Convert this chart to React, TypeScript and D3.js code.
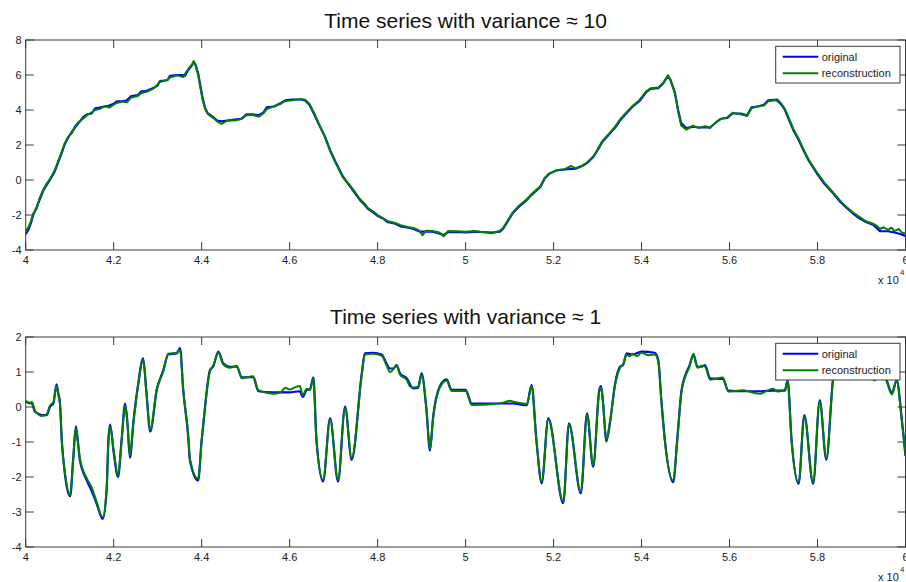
import React from "react";
import * as d3 from "d3";

// ---------- data (x in units of 10^4) ----------
const xTickValues = [4, 4.2, 4.4, 4.6, 4.8, 5, 5.2, 5.4, 5.6, 5.8, 6];
const xTickLabels = ["4", "4.2", "4.4", "4.6", "4.8", "5", "5.2", "5.4", "5.6", "5.8", "6"];
const topYTicks = [-4, -2, 0, 2, 4, 6, 8];
const bottomYTicks = [-4, -3, -2, -1, 0, 1, 2];
const titles = ["Time series with variance \u2248 10", "Time series with variance \u2248 1"];
const seriesNames = ["original", "reconstruction"];

const topOriginal: [number, number][] = [
  [4.000,-3.10],[4.006,-2.85],[4.012,-2.45],[4.017,-2.00],[4.025,-1.55],[4.032,-1.10],[4.040,-0.60],[4.046,-0.35],
  [4.055,0.00],[4.062,0.30],[4.067,0.55],[4.075,1.10],[4.082,1.55],[4.088,2.00],[4.096,2.40],[4.105,2.75],
  [4.112,3.00],[4.120,3.25],[4.131,3.60],[4.140,3.75],[4.150,3.80],[4.158,4.10],[4.170,4.15],[4.180,4.20],
  [4.190,4.25],[4.200,4.35],[4.207,4.50],[4.220,4.50],[4.230,4.55],[4.240,4.80],[4.255,4.85],[4.262,5.05],
  [4.275,5.10],[4.290,5.25],[4.300,5.40],[4.305,5.65],[4.322,5.70],[4.328,5.95],[4.345,6.00],[4.358,6.00],
  [4.362,5.95],[4.370,6.30],[4.378,6.55],[4.382,6.75],[4.386,6.60],[4.392,6.10],[4.397,5.40],[4.402,4.70],
  [4.408,4.10],[4.414,3.80],[4.426,3.60],[4.435,3.40],[4.445,3.35],[4.460,3.40],[4.475,3.45],[4.490,3.50],
  [4.502,3.75],[4.515,3.75],[4.530,3.70],[4.540,3.85],[4.548,4.15],[4.565,4.20],[4.580,4.40],[4.590,4.55],
  [4.605,4.60],[4.625,4.60],[4.635,4.55],[4.645,4.30],[4.655,3.80],[4.665,3.25],[4.680,2.50],[4.692,1.70],
  [4.705,1.00],[4.721,0.20],[4.737,-0.35],[4.750,-0.80],[4.760,-1.15],[4.770,-1.40],[4.778,-1.65],[4.790,-1.85],
  [4.800,-2.05],[4.812,-2.20],[4.822,-2.40],[4.840,-2.50],[4.852,-2.65],[4.870,-2.72],[4.882,-2.80],[4.895,-2.95],
  [4.910,-2.95],[4.925,-2.95],[4.940,-3.05],[4.950,-3.15],[4.960,-2.98],[4.980,-2.97],[5.000,-3.00],[5.020,-2.96],
  [5.040,-2.97],[5.060,-3.00],[5.078,-2.95],[5.085,-2.80],[5.095,-2.40],[5.107,-1.90],[5.120,-1.55],[5.139,-1.15],
  [5.150,-0.85],[5.170,-0.40],[5.180,0.10],[5.190,0.35],[5.207,0.55],[5.225,0.60],[5.250,0.65],[5.265,0.80],
  [5.275,0.95],[5.290,1.30],[5.300,1.70],[5.310,2.15],[5.328,2.65],[5.340,3.00],[5.351,3.40],[5.365,3.80],
  [5.380,4.20],[5.395,4.50],[5.410,5.00],[5.420,5.20],[5.438,5.25],[5.450,5.55],[5.460,5.95],[5.466,5.70],
  [5.476,4.95],[5.483,4.00],[5.490,3.25],[5.502,2.95],[5.516,3.05],[5.530,3.00],[5.555,3.00],[5.570,3.30],
  [5.580,3.50],[5.595,3.55],[5.607,3.80],[5.625,3.80],[5.640,3.70],[5.650,4.15],[5.665,4.20],[5.678,4.30],
  [5.688,4.55],[5.700,4.58],[5.708,4.55],[5.718,4.30],[5.726,4.00],[5.736,3.40],[5.745,2.85],[5.757,2.30],
  [5.767,1.75],[5.780,1.10],[5.798,0.40],[5.815,-0.20],[5.835,-0.75],[5.850,-1.20],[5.866,-1.60],[5.880,-1.90],
  [5.896,-2.20],[5.910,-2.40],[5.926,-2.55],[5.935,-2.75],[5.942,-2.92],[5.960,-2.93],[5.975,-3.00],[5.990,-3.10],
  [6.000,-3.20],
];

const topReconstruction: [number, number][] = [
  [4.000,-2.95],[4.006,-2.70],[4.012,-2.35],[4.017,-1.92],[4.025,-1.62],[4.032,-1.02],[4.040,-0.55],[4.046,-0.28],
  [4.055,0.06],[4.062,0.36],[4.067,0.62],[4.075,1.15],[4.082,1.62],[4.088,2.06],[4.096,2.45],[4.105,2.68],
  [4.112,3.06],[4.120,3.30],[4.131,3.52],[4.140,3.72],[4.150,3.86],[4.158,4.00],[4.170,4.08],[4.180,4.22],
  [4.190,4.14],[4.200,4.30],[4.207,4.40],[4.220,4.48],[4.230,4.44],[4.240,4.72],[4.255,4.80],[4.262,4.96],
  [4.275,5.04],[4.290,5.22],[4.300,5.46],[4.305,5.60],[4.322,5.72],[4.328,5.86],[4.345,5.98],[4.358,5.88],
  [4.362,6.05],[4.370,6.36],[4.378,6.60],[4.382,6.80],[4.386,6.55],[4.392,6.00],[4.397,5.30],[4.402,4.60],
  [4.408,4.04],[4.414,3.78],[4.426,3.55],[4.435,3.35],[4.445,3.20],[4.452,3.30],[4.460,3.42],[4.475,3.40],
  [4.490,3.48],[4.502,3.70],[4.515,3.72],[4.530,3.62],[4.540,3.80],[4.548,4.05],[4.565,4.22],[4.580,4.36],
  [4.590,4.52],[4.605,4.55],[4.625,4.63],[4.635,4.58],[4.645,4.36],[4.655,3.86],[4.665,3.30],[4.680,2.46],
  [4.692,1.66],[4.705,0.95],[4.721,0.15],[4.737,-0.30],[4.750,-0.74],[4.760,-1.10],[4.770,-1.34],[4.778,-1.60],
  [4.790,-1.80],[4.800,-2.00],[4.812,-2.18],[4.822,-2.34],[4.840,-2.46],[4.852,-2.58],[4.870,-2.70],[4.882,-2.74],
  [4.895,-2.90],[4.902,-3.15],[4.910,-2.90],[4.925,-2.92],[4.940,-3.00],[4.950,-3.22],[4.960,-2.92],[4.980,-2.93],
  [5.000,-2.96],[5.020,-2.92],[5.040,-2.98],[5.060,-3.05],[5.078,-2.90],[5.085,-2.75],[5.095,-2.34],[5.107,-1.86],
  [5.120,-1.50],[5.139,-1.10],[5.150,-0.80],[5.170,-0.36],[5.180,0.12],[5.190,0.38],[5.207,0.56],[5.225,0.62],
  [5.240,0.80],[5.250,0.66],[5.265,0.82],[5.275,0.98],[5.290,1.34],[5.300,1.74],[5.310,2.20],[5.328,2.70],
  [5.340,3.05],[5.351,3.46],[5.365,3.84],[5.380,4.24],[5.395,4.56],[5.410,5.05],[5.420,5.24],[5.438,5.28],
  [5.450,5.58],[5.460,5.98],[5.466,5.72],[5.476,4.98],[5.483,3.95],[5.490,3.12],[5.502,2.88],[5.516,3.10],
  [5.530,2.98],[5.545,3.08],[5.555,2.96],[5.570,3.32],[5.580,3.48],[5.595,3.58],[5.607,3.84],[5.625,3.76],
  [5.640,3.66],[5.650,4.10],[5.665,4.22],[5.678,4.26],[5.688,4.50],[5.700,4.56],[5.708,4.62],[5.718,4.36],
  [5.726,4.05],[5.736,3.46],[5.745,2.92],[5.757,2.36],[5.767,1.80],[5.780,1.16],[5.798,0.46],[5.815,-0.14],
  [5.835,-0.70],[5.850,-1.14],[5.866,-1.55],[5.880,-1.84],[5.896,-2.12],[5.910,-2.36],[5.926,-2.50],[5.935,-2.62],
  [5.942,-2.80],[5.950,-2.70],[5.960,-2.85],[5.968,-2.72],[5.975,-2.92],[5.985,-2.80],[5.992,-3.02],[6.000,-3.05],
];

const bottomOriginal: [number, number][] = [
  [4.000,0.15],[4.008,0.12],[4.014,0.10],[4.021,-0.13],[4.030,-0.20],[4.036,-0.23],[4.048,-0.23],[4.055,0.00],
  [4.063,0.10],[4.070,0.65],[4.074,0.40],[4.078,0.10],[4.082,-0.94],[4.089,-1.90],[4.101,-2.55],[4.108,-1.50],
  [4.114,-0.55],[4.118,-0.90],[4.123,-1.50],[4.139,-2.10],[4.150,-2.40],[4.161,-2.75],[4.175,-3.20],[4.184,-2.37],
  [4.188,-0.94],[4.192,-0.50],[4.200,-1.30],[4.210,-2.00],[4.218,-0.94],[4.226,0.10],[4.231,-0.40],[4.237,-1.45],
  [4.245,-0.40],[4.255,0.60],[4.267,1.39],[4.274,0.50],[4.283,-0.70],[4.298,0.49],[4.313,1.06],[4.324,1.50],
  [4.343,1.53],[4.351,1.68],[4.358,0.49],[4.370,-0.94],[4.373,-1.50],[4.392,-2.10],[4.400,-0.94],[4.404,-0.47],
  [4.419,1.06],[4.426,1.15],[4.438,1.58],[4.449,1.25],[4.464,1.15],[4.480,1.15],[4.491,0.85],[4.517,0.85],
  [4.529,0.45],[4.560,0.42],[4.600,0.42],[4.623,0.45],[4.630,0.29],[4.639,0.49],[4.646,0.50],[4.654,0.85],
  [4.661,-0.94],[4.676,-2.13],[4.692,-0.32],[4.710,-2.13],[4.726,0.01],[4.741,-1.51],[4.764,0.96],[4.771,1.53],
  [4.790,1.55],[4.809,1.50],[4.820,1.25],[4.828,1.10],[4.836,1.10],[4.843,1.20],[4.851,0.96],[4.866,0.82],
  [4.881,0.53],[4.892,0.55],[4.900,0.96],[4.911,-0.09],[4.919,-1.25],[4.926,-0.30],[4.941,0.58],[4.957,0.79],
  [4.968,0.49],[5.000,0.49],[5.014,0.10],[5.060,0.10],[5.108,0.10],[5.139,0.05],[5.150,0.63],[5.161,-0.94],
  [5.173,-2.18],[5.188,-0.32],[5.222,-2.75],[5.235,-0.47],[5.262,-2.47],[5.276,-0.18],[5.290,-1.71],[5.304,0.50],
  [5.308,0.60],[5.312,0.20],[5.320,-0.98],[5.328,-0.47],[5.340,0.68],[5.351,1.15],[5.358,1.20],[5.366,1.53],
  [5.380,1.50],[5.400,1.58],[5.430,1.55],[5.438,1.34],[5.445,0.20],[5.453,-0.94],[5.472,-2.15],[5.481,-0.94],
  [5.490,0.39],[5.501,0.96],[5.508,1.15],[5.518,1.49],[5.527,1.15],[5.537,1.15],[5.544,1.20],[5.556,0.82],
  [5.585,0.80],[5.597,0.47],[5.630,0.45],[5.669,0.45],[5.699,0.47],[5.726,0.47],[5.732,0.77],[5.741,-0.94],
  [5.757,-2.20],[5.770,-0.23],[5.790,-2.20],[5.805,0.20],[5.820,-1.51],[5.835,0.77],[5.845,1.40],[5.862,1.55],
  [5.877,1.10],[5.896,1.30],[5.917,1.00],[5.930,0.80],[5.942,1.20],[5.957,0.77],[5.969,0.40],[5.980,0.77],
  [5.991,-0.28],[6.000,-1.40],
];

const bottomReconstruction: [number, number][] = [
  [4.000,0.18],[4.008,0.10],[4.014,0.14],[4.021,-0.10],[4.030,-0.22],[4.036,-0.26],[4.048,-0.20],[4.055,0.04],
  [4.063,0.14],[4.070,0.60],[4.074,0.36],[4.078,0.06],[4.082,-0.98],[4.089,-1.86],[4.101,-2.50],[4.108,-1.46],
  [4.114,-0.62],[4.118,-0.95],[4.123,-1.46],[4.139,-2.04],[4.150,-2.30],[4.161,-2.70],[4.175,-3.15],[4.184,-2.30],
  [4.188,-1.00],[4.192,-0.56],[4.200,-1.25],[4.210,-1.95],[4.218,-0.98],[4.226,0.04],[4.231,-0.44],[4.237,-1.38],
  [4.245,-0.44],[4.255,0.56],[4.267,1.35],[4.274,0.46],[4.283,-0.66],[4.298,0.52],[4.313,1.02],[4.324,1.52],
  [4.343,1.55],[4.351,1.64],[4.358,0.52],[4.370,-0.90],[4.373,-1.46],[4.392,-2.05],[4.400,-0.98],[4.404,-0.44],
  [4.419,1.02],[4.426,1.18],[4.438,1.55],[4.449,1.22],[4.464,1.12],[4.480,1.18],[4.491,0.82],[4.517,0.88],
  [4.529,0.48],[4.550,0.40],[4.565,0.38],[4.580,0.42],[4.590,0.55],[4.600,0.50],[4.612,0.56],[4.623,0.60],
  [4.630,0.34],[4.639,0.52],[4.646,0.48],[4.654,0.82],[4.661,-0.98],[4.676,-2.08],[4.692,-0.36],[4.710,-2.08],
  [4.726,-0.03],[4.741,-1.46],[4.764,0.92],[4.771,1.50],[4.790,1.52],[4.809,1.47],[4.820,1.20],[4.828,1.00],
  [4.836,1.08],[4.843,1.18],[4.851,0.92],[4.866,0.78],[4.874,0.58],[4.881,0.56],[4.892,0.58],[4.900,0.92],
  [4.911,-0.05],[4.919,-1.20],[4.926,-0.34],[4.941,0.55],[4.957,0.76],[4.968,0.46],[5.000,0.46],[5.014,0.06],
  [5.060,0.08],[5.090,0.14],[5.100,0.18],[5.108,0.15],[5.130,0.10],[5.139,0.08],[5.150,0.60],[5.161,-0.98],
  [5.173,-2.13],[5.188,-0.36],[5.222,-2.70],[5.235,-0.50],[5.262,-2.42],[5.276,-0.22],[5.290,-1.66],[5.304,0.46],
  [5.308,0.56],[5.312,0.16],[5.320,-0.94],[5.328,-0.44],[5.340,0.64],[5.351,1.12],[5.358,1.22],[5.366,1.50],
  [5.372,1.45],[5.380,1.52],[5.390,1.46],[5.400,1.55],[5.415,1.48],[5.430,1.50],[5.438,1.30],[5.445,0.16],
  [5.453,-0.98],[5.472,-2.10],[5.481,-0.98],[5.490,0.36],[5.501,0.92],[5.508,1.12],[5.518,1.52],[5.527,1.12],
  [5.537,1.18],[5.544,1.16],[5.556,0.78],[5.585,0.84],[5.597,0.44],[5.630,0.48],[5.650,0.42],[5.669,0.38],
  [5.685,0.46],[5.699,0.52],[5.710,0.44],[5.726,0.50],[5.732,0.74],[5.741,-0.98],[5.757,-2.15],[5.770,-0.27],
  [5.790,-2.15],[5.805,0.16],[5.820,-1.46],[5.835,0.74],[5.845,1.36],[5.862,1.52],[5.877,1.06],[5.896,1.26],
  [5.917,0.96],[5.930,0.76],[5.942,1.16],[5.957,0.74],[5.969,0.36],[5.980,0.74],[5.991,-0.32],[6.000,-1.36],
];

// ---------- layout ----------
const W = 906;
const H = 582;
const AX_LEFT = 25.7;
const AX_RIGHT = 905.5;
const FONT = "'Liberation Sans', Arial, Helvetica, sans-serif";
const TICK_LEN = 8;

type PanelProps = {
  top: number;
  bottom: number;
  yDomain: [number, number];
  yTicks: number[];
  title: string;
  titleY: number;
  original: [number, number][];
  recon: [number, number][];
  id: string;
  smooth: boolean;
};

function Panel({ top, bottom, yDomain, yTicks, title, titleY, original, recon, id, smooth }: PanelProps) {
  const x = d3.scaleLinear().domain([4, 6]).range([AX_LEFT, AX_RIGHT]);
  const y = d3.scaleLinear().domain(yDomain).range([bottom, top]);
  const line = d3
    .line<[number, number]>()
    .x((d) => x(d[0]))
    .y((d) => y(d[1]))
    .curve(smooth ? d3.curveMonotoneX : d3.curveLinear);
  const axisColor = "#3a3a3a";
  const textColor = "#222";
  const legX = 775.7;
  const legY = top + 6.3;
  return (
    <g>
      <defs>
        <clipPath id={id}>
          <rect x={AX_LEFT} y={top} width={AX_RIGHT - AX_LEFT} height={bottom - top} />
        </clipPath>
      </defs>
      <rect x={AX_LEFT} y={top} width={AX_RIGHT - AX_LEFT} height={bottom - top} fill="#fff" />
      <g clipPath={`url(#${id})`}>
        <path d={line(original) || ""} fill="none" stroke="#0000ff" strokeWidth={2.2} strokeLinejoin="round" />
        <path d={line(recon) || ""} fill="none" stroke="#008000" strokeWidth={2} strokeLinejoin="round" />
      </g>
      {/* box */}
      <rect x={AX_LEFT} y={top} width={AX_RIGHT - AX_LEFT} height={bottom - top} fill="none" stroke={axisColor} strokeWidth={1} />
      {/* x ticks */}
      {xTickValues.map((v, i) => (
        <g key={"xt" + i}>
          <line x1={x(v)} x2={x(v)} y1={bottom} y2={bottom - TICK_LEN} stroke={axisColor} />
          <line x1={x(v)} x2={x(v)} y1={top} y2={top + TICK_LEN} stroke={axisColor} />
          <text x={x(v)} y={bottom + 14} textAnchor="middle" fontFamily={FONT} fontSize={11} fill={textColor}>
            {xTickLabels[i]}
          </text>
        </g>
      ))}
      {/* y ticks */}
      {yTicks.map((v, i) => (
        <g key={"yt" + i}>
          <line x1={AX_LEFT} x2={AX_LEFT + TICK_LEN} y1={y(v)} y2={y(v)} stroke={axisColor} />
          <line x1={AX_RIGHT} x2={AX_RIGHT - TICK_LEN} y1={y(v)} y2={y(v)} stroke={axisColor} />
          <text x={21.5} y={y(v) + 4} textAnchor="end" fontFamily={FONT} fontSize={11} fill={textColor}>
            {String(v)}
          </text>
        </g>
      ))}
      {/* exponent */}
      <text x={878} y={bottom + 34} fontFamily={FONT} fontSize={11} fill={textColor}>
        x 10
      </text>
      <text x={900} y={bottom + 25} fontFamily={FONT} fontSize={8} fill={textColor}>
        4
      </text>
      {/* title */}
      <text x={(AX_LEFT + AX_RIGHT) / 2} y={titleY} textAnchor="middle" fontFamily={FONT} fontSize={21} fill="#111">
        {title}
      </text>
      {/* legend */}
      <rect x={legX} y={legY} width={124.3} height={36.7} fill="#fff" stroke={axisColor} strokeWidth={1} />
      <line x1={782.7} x2={818.3} y1={legY + 10.4} y2={legY + 10.4} stroke="#0000ff" strokeWidth={2} />
      <line x1={782.7} x2={818.3} y1={legY + 27} y2={legY + 27} stroke="#008000" strokeWidth={2} />
      <text x={821.7} y={legY + 14.4} fontFamily={FONT} fontSize={11} fill={textColor}>
        {seriesNames[0]}
      </text>
      <text x={821.7} y={legY + 31} fontFamily={FONT} fontSize={11} fill={textColor}>
        {seriesNames[1]}
      </text>
    </g>
  );
}

export default function App() {
  return (
    <svg
      width={W}
      height={H}
      viewBox={`0 0 ${W} ${H}`}
      style={{ position: "absolute", left: 0, top: 0, background: "#fff" }}
    >
      <rect x={0} y={0} width={W} height={H} fill="#fff" />
      <Panel
        id="clipTop"
        top={40}
        bottom={250}
        yDomain={[-4, 8]}
        yTicks={topYTicks}
        title={titles[0]}
        titleY={28.3}
        original={topOriginal}
        recon={topReconstruction}
        smooth={false}
      />
      <Panel
        id="clipBottom"
        top={337}
        bottom={547}
        yDomain={[-4, 2]}
        yTicks={bottomYTicks}
        title={titles[1]}
        titleY={324.3}
        original={bottomOriginal}
        recon={bottomReconstruction}
        smooth={true}
      />
    </svg>
  );
}
